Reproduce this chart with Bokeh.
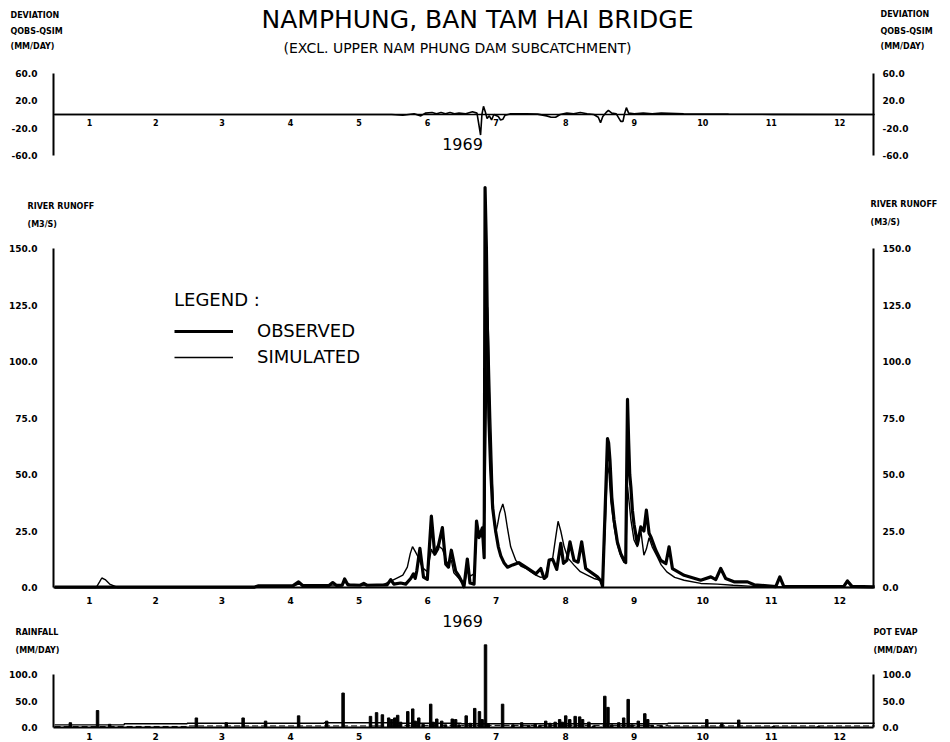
from bokeh.plotting import figure
from bokeh.models import (Range1d, LinearAxis, FixedTicker, Legend, LegendItem)
from bokeh.embed import file_html
from bokeh.resources import INLINE
from bokeh.core.properties import value

# ---------------- data ----------------
year_label = "1969"
month_labels = [str(i) for i in range(1, 13)]
month_mid_days = [15.5, 45, 74.5, 105, 135.5, 166, 196.5, 227.5, 258, 288.5, 319, 349.5]
dev_ticks = [-60, -20, 20, 60]
runoff_ticks = [0, 25, 50, 75, 100, 125, 150]
rain_ticks = [0, 50, 100]

# day of year, deviation QOBS-QSIM (mm/day)
deviation = [(0, 0), (150, 0), (155, -1), (160, 1), (163, -2), (165, 2), (168, 3), (170, 1),
             (172, 3), (174, 1), (176, 3), (178, 1), (180, 2), (183, 1), (186, 4), (188, 2),
             (189.6, -30), (190.2, 0), (190.9, 12), (191.8, 3), (192.5, -6), (193.5, -2),
             (194.5, -8), (195.5, 0), (197.5, -3), (198.5, -8), (199.5, -7), (200.5, -1),
             (203, 1), (210, 1), (215, 0.5), (219, -2), (221, -4), (223, -4), (225, 0),
             (228, 2), (231, 1), (234, 3), (237, 1), (240, 0), (242, -4), (243, -12),
             (244, -3), (245.5, 3), (246.5, 6), (248, 2), (250, 1), (252, -10), (253, -10),
             (253.6, 0), (254.5, 10), (255.5, 2), (258, 1), (262, 2), (266, 1), (270, 2),
             (280, 1), (300, 0.5), (320, 0.2), (365, 0)]

# day of year, observed runoff (m3/s)
observed = [(0, 0.2), (89, 0.2), (90.5, 0.7), (106, 0.7), (108.6, 2.5), (110.5, 0.8),
            (122, 0.8), (123.8, 2.2), (125.5, 0.9), (128, 1), (129.1, 3.8), (130.5, 1.2),
            (136, 1), (137.6, 1.8), (139, 1), (148, 1.2), (149.6, 3.5), (151, 1.5), (154, 2),
            (156.3, 1.5), (158.5, 4), (159.7, 6), (160.5, 4), (161.2, 7.3), (162.6, 17.3),
            (164.2, 4.6), (165.9, 3.6), (167.7, 31.6), (169.2, 14.7), (170.5, 17),
            (172.6, 26.5), (174.1, 10.3), (175.3, 9), (176.6, 16.5), (178.5, 7.3), (180, 5),
            (181.5, 2.1), (182.2, 0.3), (183.7, 12.6), (184.9, 2), (186.7, 1.5),
            (187.8, 29.4), (188.9, 22.1), (190.4, 26.4), (191.2, 13.2), (191.6, 177),
            (192.2, 150), (192.7, 110), (193.3, 75), (194.1, 52), (195, 35), (196.3, 25),
            (197.5, 18), (198.6, 14), (200, 11), (201.6, 9), (203.9, 10), (206.6, 11),
            (209.7, 9), (214.2, 6), (216.4, 8.4), (217.9, 4), (219, 5), (220.1, 12.1),
            (221.7, 12.5), (223.5, 8), (225.3, 19.5), (226.5, 10.7), (228, 12), (229.4, 20.2),
            (231.2, 12), (233, 11.2), (234.6, 20.2), (236.4, 8.4), (241.6, 4.7), (243.1, 3),
            (243.9, 0.5), (246.1, 65.9), (246.6, 64), (247.2, 56.3), (248, 40), (249, 30),
            (250.5, 20), (252, 15), (253.5, 12), (254.2, 11), (255, 83.2), (255.5, 65),
            (256, 50), (256.5, 44.5), (257.2, 34), (257.9, 28), (258.6, 24), (259.4, 19),
            (260.9, 26.8), (262.3, 25), (263.4, 34.2), (264.6, 24), (265.4, 22.4),
            (267.6, 16.5), (269.8, 12), (272.1, 10.6), (273.5, 18), (275, 8.4), (280.2, 5.4),
            (287.6, 3.2), (292.1, 4.7), (294.3, 3.5), (296.5, 8.4), (298.7, 4), (302.4, 2.5),
            (308.4, 2.5), (311.4, 1.2), (321, 0.4), (322.8, 4.7), (324.6, 0.4), (351.3, 0.5),
            (352.9, 2.9), (354.9, 0.5), (365, 0.3)]

# day of year, simulated runoff (m3/s)
simulated = [(0, 0), (18.5, 0), (20, 2.5), (21, 4.2), (22.5, 3.5), (24.5, 1.5), (28, 0),
             (89, 0), (91, 0.5), (106, 0.6), (108.6, 1.5), (112, 0.7), (128, 0.8),
             (129.1, 2.5), (132, 1), (146, 1.2), (149, 2.5), (152.6, 4.3), (155, 5.5),
             (157, 9), (158.3, 15), (159.3, 18.1), (160.5, 16), (161.8, 13.5), (163.7, 8.8),
             (165.9, 7), (167.7, 17), (168.5, 15), (170.5, 18.7), (172.6, 17), (174.8, 10.6),
             (176.6, 12), (177.7, 6.5), (180, 4), (181.5, 2.1), (182.5, 1.5), (183.7, 8),
             (185, 5), (186.7, 6), (187.8, 22), (189, 25), (190.4, 22), (191.5, 35),
             (192.3, 90), (192.7, 124), (193.2, 110), (194.1, 75), (195, 45), (195.5, 30),
             (196.3, 24), (197.2, 28), (198.1, 33), (199.5, 37), (200.5, 33), (201.6, 26),
             (203, 18), (205.3, 12), (207.5, 9.5), (209.7, 8.5), (211.9, 7), (214.2, 5.5),
             (216.4, 4.5), (218.5, 5), (220.1, 12), (221.7, 13), (223, 22), (224.1, 29.3),
             (225.3, 25), (226.8, 18), (228.5, 13), (231.2, 9.9), (234, 7), (237.3, 5.4),
             (240, 4), (243.1, 3.2), (243.9, 1.8), (245, 25), (246.1, 55), (246.8, 50),
             (247.6, 38), (249, 27), (250.5, 19), (252, 14), (253.5, 11), (254.2, 12),
             (255, 44.5), (255.7, 38), (256.5, 30), (257.9, 21), (259.4, 18), (260.9, 25.4),
             (262.3, 14.3), (263.4, 17), (264.6, 22), (266, 18), (268.3, 13.5), (270, 10),
             (272.5, 6.9), (276, 4.5), (280.2, 3.2), (287.6, 1.8), (295, 1.5), (302, 1),
             (311, 0.5), (330, 0.1), (365, 0)]

# day of year, rainfall (mm/day)
rainfall = [(7, 9), (19.1, 32), (24.5, 6), (63.1, 18), (76.4, 9), (83.9, 18), (93.9, 12),
            (108.6, 22), (121.1, 12), (128.4, 65), (140.6, 21), (143.3, 28), (145.9, 24),
            (148.7, 18), (150, 15), (151.4, 18), (152.7, 23), (154, 10), (157.2, 30),
            (159.4, 35), (160.5, 12), (162.1, 18), (164, 6), (167.4, 44), (168.5, 10),
            (170.1, 16), (172.3, 12), (174, 5), (177, 16), (178.5, 15), (180, 5), (183.2, 22),
            (185, 8), (187, 36), (189.1, 30), (190.3, 15), (191.8, 156), (193, 6), (199.4, 44),
            (204, 5), (207.9, 9), (211, 4), (213.9, 6), (216, 4), (218.6, 12), (220.5, 8),
            (222.8, 10), (224.8, 15), (226, 10), (227.5, 22), (229.3, 15), (231.7, 21),
            (233.7, 20), (235, 15), (237.8, 10), (240, 3), (244.9, 59), (246.3, 38), (248, 5),
            (251.1, 9), (253.3, 18), (255.3, 53), (257, 5), (259.8, 12), (262.7, 26),
            (264, 15), (266, 4), (270, 3), (290.3, 15), (297, 8), (304.5, 14), (320, 2),
            (340, 2)]

# monthly potential evaporation (mm/day) and the lower dashed evaporation trace
month_start_days = [0, 31, 59, 90, 120, 151, 181, 212, 243, 273, 304, 334, 365]
pot_evap = [5, 7, 8, 8, 9, 8, 7, 7, 7, 8, 8, 8]
low_evap = [2, 2, 3, 3, 3, 4, 4, 4, 4, 3, 3, 3]

dev_day = [d for d, _ in deviation]; dev_val = [v for _, v in deviation]
obs_day = [d for d, _ in observed]; obs_val = [v for _, v in observed]
sim_day = [d for d, _ in simulated]; sim_val = [v for _, v in simulated]
rain_day = [d for d, _ in rainfall]; rain_val = [v for _, v in rainfall]
evap_x, evap_y, low_y = [], [], []
for i in range(12):
    evap_x += [month_start_days[i], month_start_days[i + 1]]
    evap_y += [pot_evap[i], pot_evap[i]]
    low_y += [low_evap[i], low_evap[i]]

# ---------------- page geometry (pixels) ----------------
W, H = 945, 742
AX_L, AX_R = 53, 873          # left / right axis lines
DAY0, DAY1 = -0.5, 364.5
FONT = "DejaVu Sans"
kx = (AX_R - AX_L) / (DAY1 - DAY0)


def vrange(v0, y0, v1, y1):
    """y range for the full-height frame, given two value->pixel anchors"""
    s = (y0 - y1) / (v1 - v0)
    return Range1d(v0 - (H - y0) / s, v0 + y0 / s)


p = figure(width=W, height=H, title=None,
           x_range=Range1d(DAY0 - AX_L / kx, DAY1 + (W - AX_R) / kx),
           y_range=vrange(0, 587, 150, 248),
           x_axis_location=None, y_axis_location=None,
           min_border=0, min_border_left=0, min_border_right=0,
           min_border_top=0, min_border_bottom=0,
           toolbar_location=None, output_backend="svg")
p.extra_x_ranges = {"pagex": Range1d(0, W)}
p.extra_y_ranges = {"page": Range1d(H, 0),
                    "dev": vrange(-60, 155, 60, 73),
                    "rain": vrange(0, 727, 100, 674)}
p.outline_line_color = None
p.grid.grid_line_color = None
p.background_fill_color = "white"
p.border_fill_color = "white"


def make_axis(side, yname, loc, bounds, width=2):
    # axis line only; its tick labels are drawn as text below
    ax = LinearAxis(y_range_name=yname, fixed_location=loc, bounds=bounds,
                    ticker=FixedTicker(ticks=[]))
    ax.axis_line_width = width
    ax.axis_line_color = "black"
    ax.major_tick_out = 0
    ax.major_tick_in = 0
    ax.minor_tick_out = 0
    ax.minor_tick_in = 0
    ax.major_label_standoff = 0
    p.add_layout(ax, side)
    return ax


# y axes (left and right) of the three panels
for yname, bounds in (("dev", (-60, 60)), ("default", (0, 150)), ("rain", (0, 100))):
    make_axis("left", yname, DAY0, bounds)
    make_axis("right", yname, DAY1, bounds)
# x axes (zero line of deviation, runoff and rainfall baselines)
make_axis("below", "dev", 0, (DAY0, DAY1), 1.5)
make_axis("below", "default", 0, (DAY0, DAY1))
make_axis("below", "rain", 0, (DAY0, DAY1))


def txt(xs, ys, texts, size, style="normal", align="left", xname="default", yname="page"):
    p.text(x=xs, y=ys, text=texts, x_range_name=xname, y_range_name=yname,
           text_font=value(FONT), text_font_size=size, text_font_style=style,
           text_align=align, text_baseline="middle", text_color="black")


# tick labels of the y axes
for yname, ticks in (("dev", dev_ticks), ("default", runoff_ticks), ("rain", rain_ticks)):
    labels = ["%.1f" % t for t in ticks]
    txt([37] * len(ticks), ticks, labels, "9px", "bold", "right", "pagex", yname)
    txt([882] * len(ticks), ticks, labels, "9px", "bold", "left", "pagex", yname)

# month labels under each panel
for ypix, size in ((122, "8px"), (600, "9px"), (736, "9px")):
    txt(month_mid_days, [ypix] * 12, month_labels, size, "bold", "center")

# ---------------- series ----------------
p.line(dev_day, dev_val, y_range_name="dev", line_color="black", line_width=1.6)
r_sim = p.line(sim_day, sim_val, line_color="black", line_width=1.4)
r_obs = p.line(obs_day, obs_val, line_color="black", line_width=3.2, line_join="round")
p.vbar(x=rain_day, top=rain_val, width=1.1, y_range_name="rain", color="black")
p.line(evap_x, evap_y, y_range_name="rain", line_color="black", line_width=1.4)
p.line(evap_x, low_y, y_range_name="rain", line_color="black", line_width=1.0,
       line_dash="6 3")

legend = Legend(items=[LegendItem(label="OBSERVED", renderers=[r_obs]),
                       LegendItem(label="SIMULATED", renderers=[r_sim])],
                title="LEGEND :", location=(174, H - 367), label_text_font=FONT,
                label_text_font_size="18px", title_text_font=FONT,
                title_text_font_size="18px", title_text_font_style="normal",
                label_text_color="black", title_text_color="black",
                glyph_width=59, glyph_height=20, label_height=20, label_standoff=24,
                spacing=5, padding=0, margin=0, title_standoff=10,
                border_line_color=None, background_fill_alpha=0)
p.add_layout(legend)

# ---------------- titles and side captions ----------------
txt([477], [19], ["NAMPHUNG, BAN TAM HAI BRIDGE"], "25px", align="center", xname="pagex")
txt([457], [47], ["(EXCL. UPPER NAM PHUNG DAM SUBCATCHMENT)"], "14px", align="center",
    xname="pagex")
small = [("DEVIATION", 10, 15), ("QOBS-QSIM", 10, 31), ("(MM/DAY)", 10, 46),
         ("DEVIATION", 880, 14), ("QOBS-QSIM", 880, 31), ("(MM/DAY)", 880, 46),
         ("RIVER RUNOFF", 27, 206), ("(M3/S)", 27, 224),
         ("RIVER RUNOFF", 870, 204), ("(M3/S)", 870, 222),
         ("RAINFALL", 15, 632), ("(MM/DAY)", 15, 650),
         ("POT EVAP", 873, 632), ("(MM/DAY)", 873, 650)]
txt([s[1] for s in small], [s[2] for s in small], [s[0] for s in small], "8px", "bold",
    xname="pagex")
txt([462, 462], [143, 620], [year_label, year_label], "16px", align="center", xname="pagex")

open("out.html", "w").write(file_html(p, INLINE))
